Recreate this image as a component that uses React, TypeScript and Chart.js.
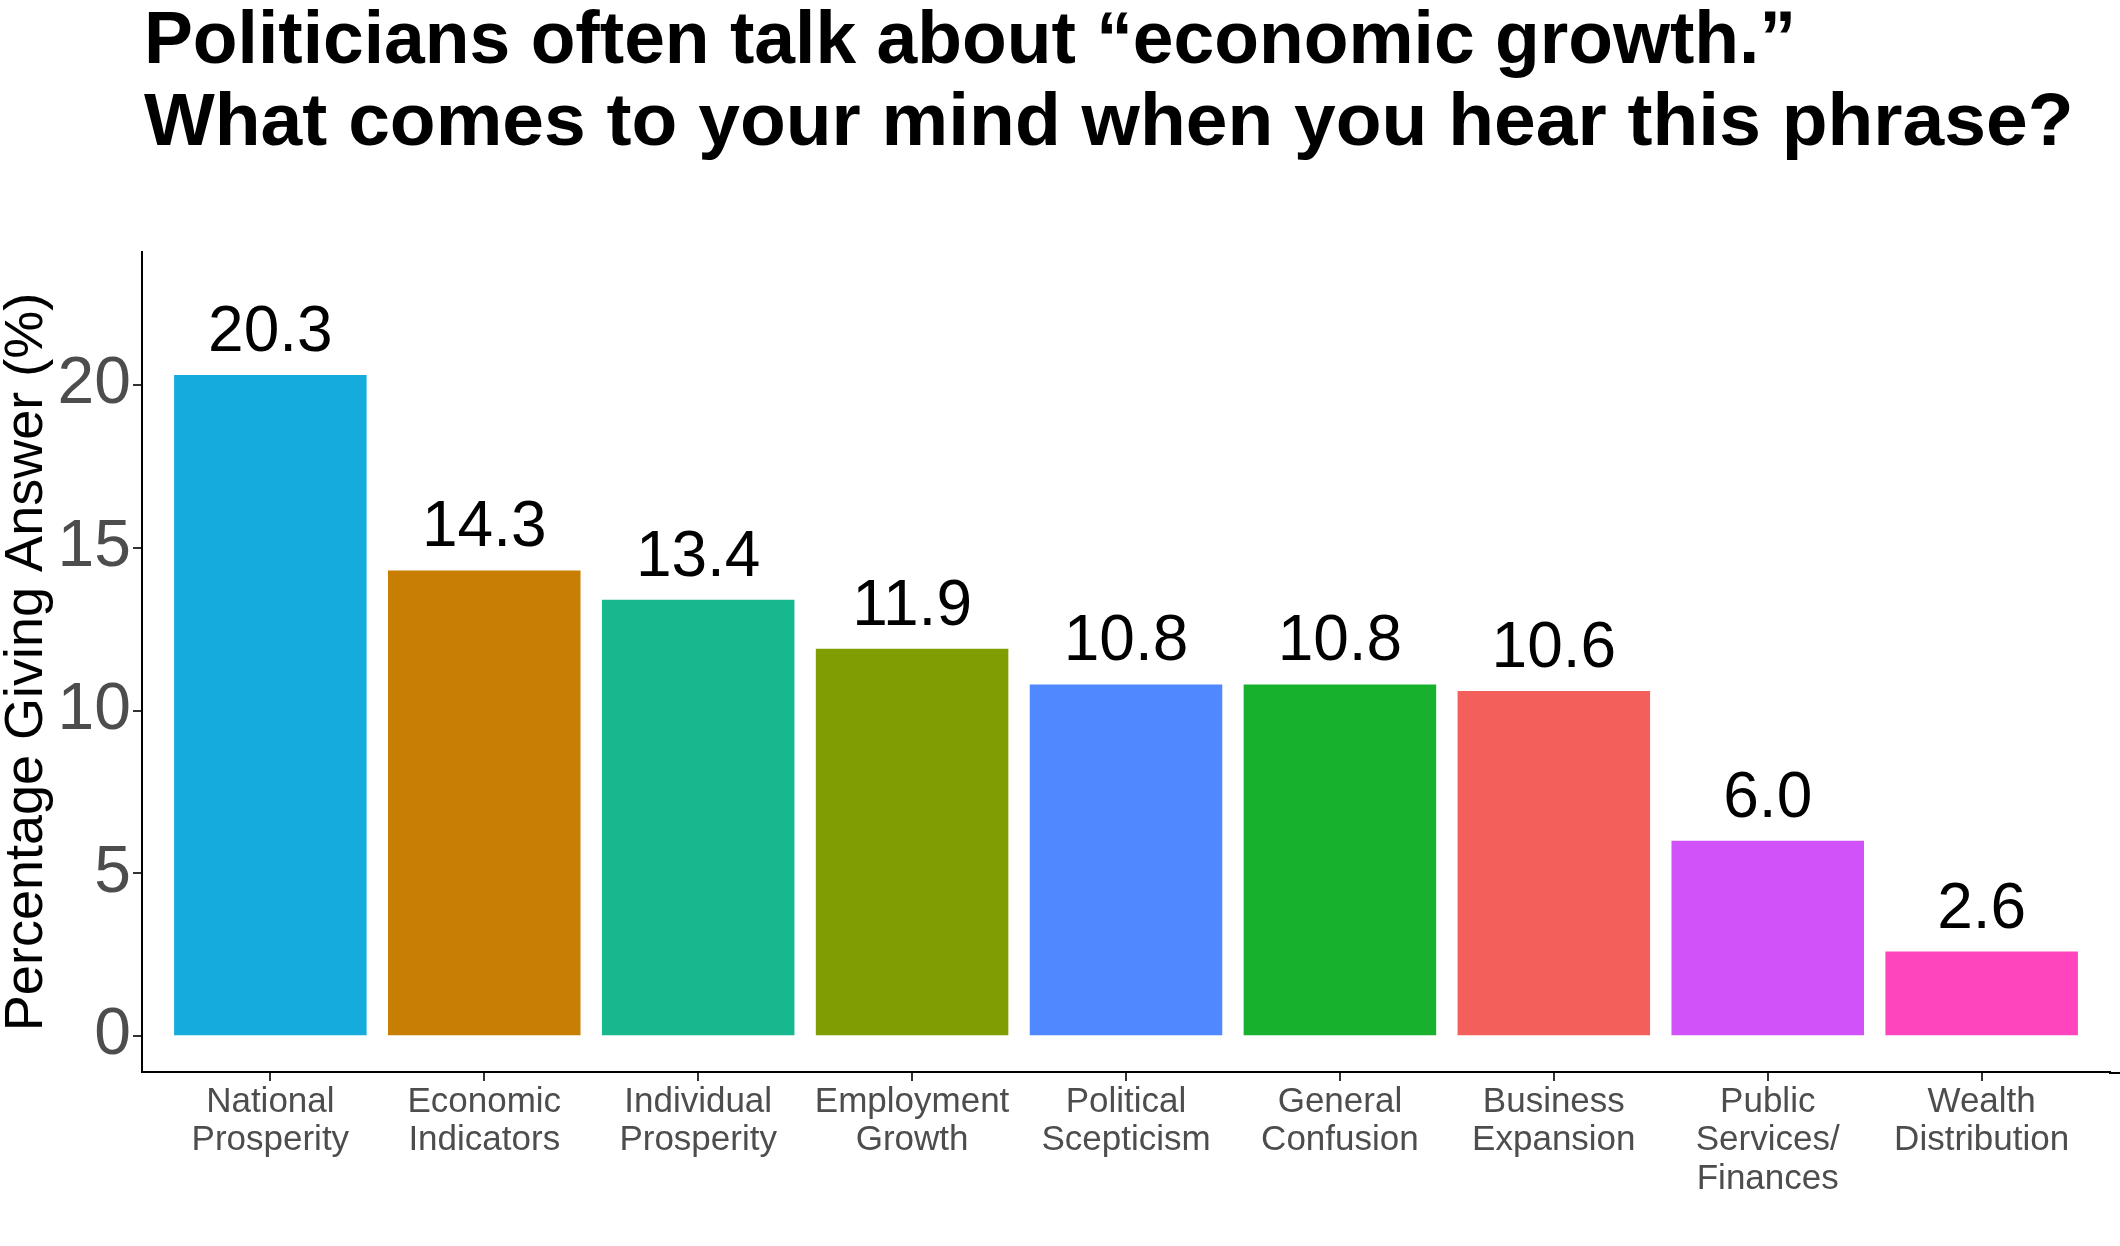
import React, { useEffect, useRef } from "react";
import { Chart, registerables } from "chart.js";

Chart.register(...registerables);

const categories: string[][] = [
  ["National", "Prosperity"],
  ["Economic", "Indicators"],
  ["Individual", "Prosperity"],
  ["Employment", "Growth"],
  ["Political", "Scepticism"],
  ["General", "Confusion"],
  ["Business", "Expansion"],
  ["Public", "Services/", "Finances"],
  ["Wealth", "Distribution"],
];
const values: number[] = [20.3, 14.3, 13.4, 11.9, 10.8, 10.8, 10.6, 6.0, 2.6];
const barColors: string[] = [
  "#16ABDD", "#C87E05", "#18B88F", "#809D04", "#4F88FF",
  "#17B12E", "#F35F5B", "#D152F8", "#FF45BE",
];
const yTicks: number[] = [0, 5, 10, 15, 20];
const titleLines: string[] = [
  "Politicians often talk about \u201Ceconomic growth.\u201D",
  "What comes to your mind when you hear this phrase?",
];
const yTitle = "Percentage Giving Answer (%)";

const FONT = "'Liberation Sans', Arial, sans-serif";

export default function App() {
  const ref = useRef<HTMLCanvasElement | null>(null);
  useEffect(() => {
    document.body.style.margin = "0";
    const canvas = ref.current;
    if (!canvas) return;
    const overlay = {
      id: "overlay",
      afterDraw(chart: any) {
        const ctx = chart.ctx as CanvasRenderingContext2D;
        const area = chart.chartArea;
        ctx.save();
        // extend x axis line to the right edge
        ctx.strokeStyle = "#000";
        ctx.lineWidth = 2;
        ctx.beginPath();
        ctx.moveTo(area.right - 1, area.bottom + 1);
        ctx.lineTo(chart.width, area.bottom + 1);
        ctx.stroke();
        ctx.fillStyle = "#000";
        ctx.textAlign = "left";
        ctx.textBaseline = "alphabetic";
        ctx.font = `bold 75px ${FONT}`;
        ctx.fillText(titleLines[0], area.left + 2, 63, 1652);
        ctx.fillText(titleLines[1], area.left + 2, 145);
        const meta = chart.getDatasetMeta(0);
        ctx.font = `64px ${FONT}`;
        ctx.textAlign = "center";
        meta.data.forEach((bar: any, i: number) => {
          ctx.fillText(values[i].toFixed(1), bar.x, bar.y - 24);
        });
        ctx.restore();
      },
    };
    const chart = new Chart(canvas, {
      type: "bar",
      data: {
        datasets: [
          {
            data: values.map((v, i) => ({ x: i + 1, y: v })),
            backgroundColor: barColors,
            borderWidth: 0,
            barPercentage: 0.9,
            categoryPercentage: 1.0,
          },
        ],
      },
      options: {
        animation: false,
        responsive: false,
        devicePixelRatio: 1,
        layout: { padding: { top: 252, right: 10, left: 0, bottom: 0 } },
        plugins: {
          legend: { display: false },
          tooltip: { enabled: false },
          title: { display: false },
        },
        scales: {
          x: {
            type: "linear",
            min: 0.4,
            max: 9.6,
            offset: false,
            afterBuildTicks: (s: any) => {
              s.ticks = categories.map((_, i) => ({ value: i + 1 }));
            },
            afterFit: (s: any) => {
              s.height = 174;
            },
            ticks: {
              autoSkip: false,
              maxRotation: 0,
              minRotation: 0,
              padding: 2,
              color: "#4D4D4D",
              font: { family: FONT, size: 35, lineHeight: 1.1 },
              callback: (v: any) => categories[Math.round(v) - 1] || "",
            },
            grid: {
              display: true,
              offset: false,
              drawOnChartArea: false,
              drawTicks: true,
              tickLength: 9,
              color: "#333333",
              lineWidth: 2,
            },
            border: { display: true, color: "#000000", width: 2 },
          },
          y: {
            type: "linear",
            min: -1.1,
            max: 24.08,
            afterBuildTicks: (s: any) => {
              s.ticks = yTicks.map((v) => ({ value: v }));
            },
            afterFit: (s: any) => {
              s.width = 142;
            },
            ticks: {
              padding: 2,
              color: "#4D4D4D",
              font: { family: FONT, size: 66 },
              callback: (v: any) => String(v),
            },
            grid: {
              display: true,
              drawOnChartArea: false,
              drawTicks: true,
              tickLength: 9,
              color: "#333333",
              lineWidth: 2,
            },
            border: { display: true, color: "#000000", width: 2 },
            title: {
              display: true,
              text: yTitle,
              color: "#000000",
              font: { family: FONT, size: 54, lineHeight: 1.0 },
              padding: { top: 0, bottom: 0 },
            },
          },
        },
      },
      plugins: [overlay],
    });
    return () => chart.destroy();
  }, []);
  return (
    <canvas
      ref={ref}
      width={2120}
      height={1246}
      style={{ width: "2120px", height: "1246px", display: "block" }}
    />
  );
}
